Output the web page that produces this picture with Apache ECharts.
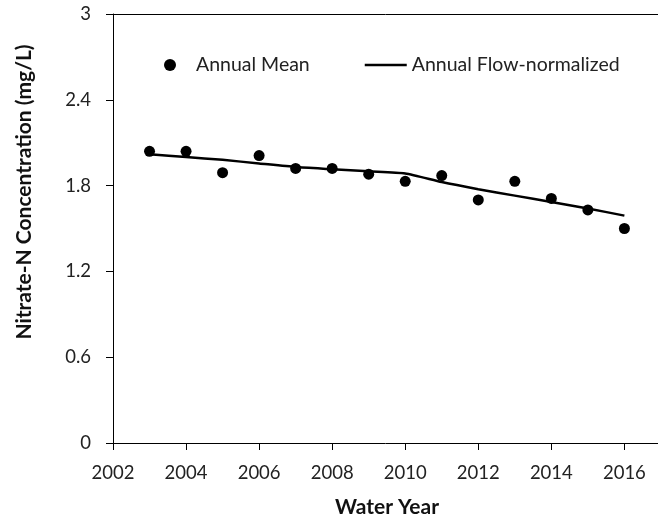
<!DOCTYPE html>
<html><head><meta charset="utf-8">
<script src="https://cdn.jsdelivr.net/npm/echarts@6/dist/echarts.min.js"></script>
<style>html,body{margin:0;padding:0;background:#fff}#c{width:658px;height:524px}</style>
</head><body><div id="c"></div>
<script>
const years = [2003,2004,2005,2006,2007,2008,2009,2010,2011,2012,2013,2014,2015,2016];
const annualMean = [2.04,2.04,1.89,2.01,1.92,1.92,1.88,1.83,1.87,1.70,1.83,1.71,1.63,1.50];
const flowNormalized = [2.02,2.00,1.98,1.955,1.93,1.915,1.90,1.885,1.825,1.775,1.73,1.685,1.64,1.59];
const yTicks = [0,0.6,1.2,1.8,2.4,3];
const xTicks = [2002,2004,2006,2008,2010,2012,2014,2016];

const font = 'Lato, "Open Sans", sans-serif';
const chart = echarts.init(document.getElementById('c'), null, {renderer:'canvas'});
chart.setOption({
  backgroundColor:'#fff',
  animation:false,
  grid:{left:113, top:14, width:546, height:429, show:false},
  legend:{
    left:159, top:50, itemWidth:42, itemHeight:12, itemGap:55,
    textStyle:{fontFamily:font, fontSize:19.5, color:'#222'},
    data:[{name:'Annual Mean', icon:'circle'},
          {name:'Annual Flow-normalized', icon:'path://M0 0 H42 V2.5 H0 Z'}]
  },
  xAxis:[{
    type:'value', min:2002, max:2016.92, interval:2,
    axisLine:{show:true, lineStyle:{color:'#000', width:1}},
    axisTick:{show:true, inside:false, length:7, lineStyle:{color:'#000'}},
    axisLabel:{fontFamily:font, fontSize:18.5, color:'#222', margin:21, showMaxLabel:false,
      formatter:v=> xTicks.includes(Math.round(v*100)/100) ? String(v) : ''},
    splitLine:{show:false}
  },{
    type:'value', position:'top', min:2002, max:2016.92,
    axisLine:{show:true, lineStyle:{color:'#000', width:1}},
    axisTick:{show:false}, axisLabel:{show:false}, splitLine:{show:false}
  }],
  yAxis:{
    type:'value', min:0, max:3, interval:0.6,
    axisLine:{show:true, lineStyle:{color:'#000', width:1}},
    axisTick:{show:true, inside:false, length:7, lineStyle:{color:'#000'}},
    axisLabel:{fontFamily:font, fontSize:18.5, color:'#222', margin:22,
      formatter:v=>{const t=yTicks.find(x=>Math.abs(x-v)<1e-6); return t===undefined?'':String(t);}},
    splitLine:{show:false}
  },
  graphic:[
    {type:'text', x:387, y:507, style:{text:'Water Year', fontFamily:font, fontWeight:'bold', fontSize:21, fill:'#111', align:'center', verticalAlign:'middle'}},
    {type:'text', rotation:Math.PI/2, x:24, y:192, style:{text:'Nitrate-N Concentration (mg/L)', fontFamily:font, fontWeight:'bold', fontSize:21, fill:'#111', align:'center', verticalAlign:'middle'}}
  ],
  series:[
    {name:'Annual Mean', type:'scatter', symbol:'circle', symbolSize:11, itemStyle:{color:'#000', opacity:1},
      data: years.map((y,i)=>[y, annualMean[i]])},
    {name:'Annual Flow-normalized', type:'line', symbol:'none', smooth:0.2,
      lineStyle:{color:'#000', width:2.5}, itemStyle:{color:'#000'},
      data: years.map((y,i)=>[y, flowNormalized[i]])}
  ]
});
</script></body></html>
